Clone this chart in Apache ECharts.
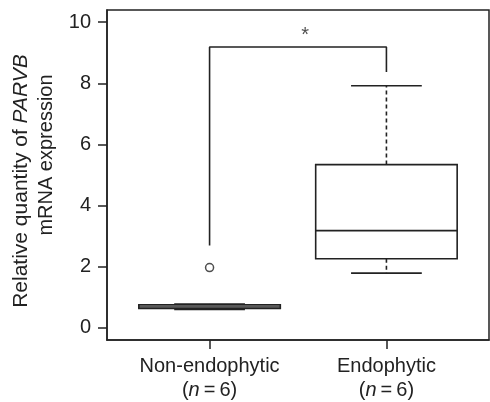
<!DOCTYPE html>
<html>
<head>
<meta charset="utf-8">
<script src="https://cdn.jsdelivr.net/npm/echarts@6/dist/echarts.min.js"></script>
<style>
html,body{margin:0;padding:0;background:#fff;}
#chart{width:490px;height:402px;}
</style>
</head>
<body>
<div id="chart"></div>
<script>
const categories = ['Non-endophytic', 'Endophytic'];
const sampleSizes = [6, 6];
const categoryPositions = [1, 2];
// [min, Q1, median, Q3, max]
const boxStats = [
  [0.60, 0.63, 0.68, 0.75, 0.78],
  [1.79, 2.26, 3.18, 5.34, 7.92]
];
// [position, value]
const outliers = [[1, 1.97]];
const bracketX = [1, 1, 2, 2];
const bracketY = [2.69, 9.19, 9.19, 8.37];
const significance = [[1.54, 9.55, '*']];
const yTicks = [0, 2, 4, 6, 8, 10];

const ink = '#222';
const font = '"Liberation Sans", Arial, Helvetica, sans-serif';
const chart = echarts.init(document.getElementById('chart'), null, {renderer: 'canvas'});

const boxData = boxStats.map((s, i) => [categoryPositions[i]].concat(s));

function renderBox(params, api) {
  const x = api.value(0);
  const mn = api.value(1), q1 = api.value(2), md = api.value(3), q3 = api.value(4), mx = api.value(5);
  const bw = api.size([0.8, 0])[0];
  const cw = bw / 2;
  const pMin = api.coord([x, mn]), pQ1 = api.coord([x, q1]), pMd = api.coord([x, md]),
        pQ3 = api.coord([x, q3]), pMax = api.coord([x, mx]);
  const cx = pMin[0];
  const lw = 1.6;
  const solid = {stroke: ink, lineWidth: lw, fill: null};
  const dashed = {stroke: ink, lineWidth: lw, lineDash: [4, 3], fill: null};
  return {
    type: 'group',
    children: [
      {type: 'line', shape: {x1: cx, y1: pQ3[1], x2: cx, y2: pMax[1]}, style: dashed},
      {type: 'line', shape: {x1: cx, y1: pQ1[1], x2: cx, y2: pMin[1]}, style: dashed},
      {type: 'line', shape: {x1: cx - cw / 2, y1: pMax[1], x2: cx + cw / 2, y2: pMax[1]}, style: solid},
      {type: 'line', shape: {x1: cx - cw / 2, y1: pMin[1], x2: cx + cw / 2, y2: pMin[1]}, style: solid},
      {type: 'rect', shape: {x: cx - bw / 2, y: pQ3[1], width: bw, height: pQ1[1] - pQ3[1]},
        style: {stroke: ink, lineWidth: lw, fill: '#fff'}},
      {type: 'line', shape: {x1: cx - bw / 2, y1: pMd[1], x2: cx + bw / 2, y2: pMd[1]}, style: solid}
    ]
  };
}

const option = {
  animation: false,
  backgroundColor: '#fff',
  textStyle: {fontFamily: font, color: ink},
  grid: {left: 107, right: 1, top: 10, bottom: 62, show: true, borderColor: ink, borderWidth: 1.5, backgroundColor: 'transparent'},
  xAxis: {
    type: 'value', min: 0.42, max: 2.58,
    splitLine: {show: false},
    axisLine: {show: true, onZero: false, lineStyle: {color: ink, width: 1.5}},
    axisTick: {show: true, inside: false, length: 9, customValues: categoryPositions, lineStyle: {color: ink, width: 1.5}},
    axisLabel: {
      customValues: categoryPositions,
      margin: 14,
      fontSize: 20, fontFamily: font, color: ink, lineHeight: 24,
      formatter: function (v) {
        const i = categoryPositions.indexOf(v);
        return categories[i] + '\n({i|n}\u2009=\u2009' + sampleSizes[i] + ')';
      },
      rich: {i: {fontStyle: 'italic', fontSize: 20, fontFamily: font, color: ink, lineHeight: 24}}
    }
  },
  yAxis: {
    type: 'value', min: -0.4, max: 10.4,
    splitLine: {show: false},
    axisLine: {show: true, onZero: false, lineStyle: {color: ink, width: 1.5}},
    axisTick: {show: true, inside: false, length: 9, customValues: yTicks, lineStyle: {color: ink, width: 1.5}},
    axisLabel: {customValues: yTicks, margin: 16, fontSize: 20, fontFamily: font, color: ink}
  },
  graphic: [
    {type: 'text', x: 21, y: 181, rotation: Math.PI / 2,
      style: {text: 'Relative quantity of {i|PARVB}', fontSize: 21, fontFamily: font, fill: ink,
        align: 'center', verticalAlign: 'middle',
        rich: {i: {fontStyle: 'italic', fontSize: 21, fontFamily: font, fill: ink}}}},
    {type: 'text', x: 46, y: 155, rotation: Math.PI / 2,
      style: {text: 'mRNA expression', fontSize: 20, fontFamily: font, fill: ink,
        align: 'center', verticalAlign: 'middle'}}
  ],
  series: [
    {type: 'custom', renderItem: renderBox, data: boxData, encode: {x: 0, y: [1, 2, 3, 4, 5]}, z: 3},
    {type: 'scatter', data: outliers, symbol: 'circle', symbolSize: 8,
      itemStyle: {color: '#fff', borderColor: ink, borderWidth: 1.5}, z: 4},
    {type: 'line', data: bracketX.map((x, i) => [x, bracketY[i]]), symbol: 'none',
      lineStyle: {color: ink, width: 1.6}, z: 2},
    {type: 'scatter', data: significance, symbolSize: 0,
      label: {show: true, position: 'inside', formatter: p => p.data[2], fontSize: 20, fontFamily: font, color: ink}, z: 5}
  ]
};
chart.setOption(option);
</script>
</body>
</html>
